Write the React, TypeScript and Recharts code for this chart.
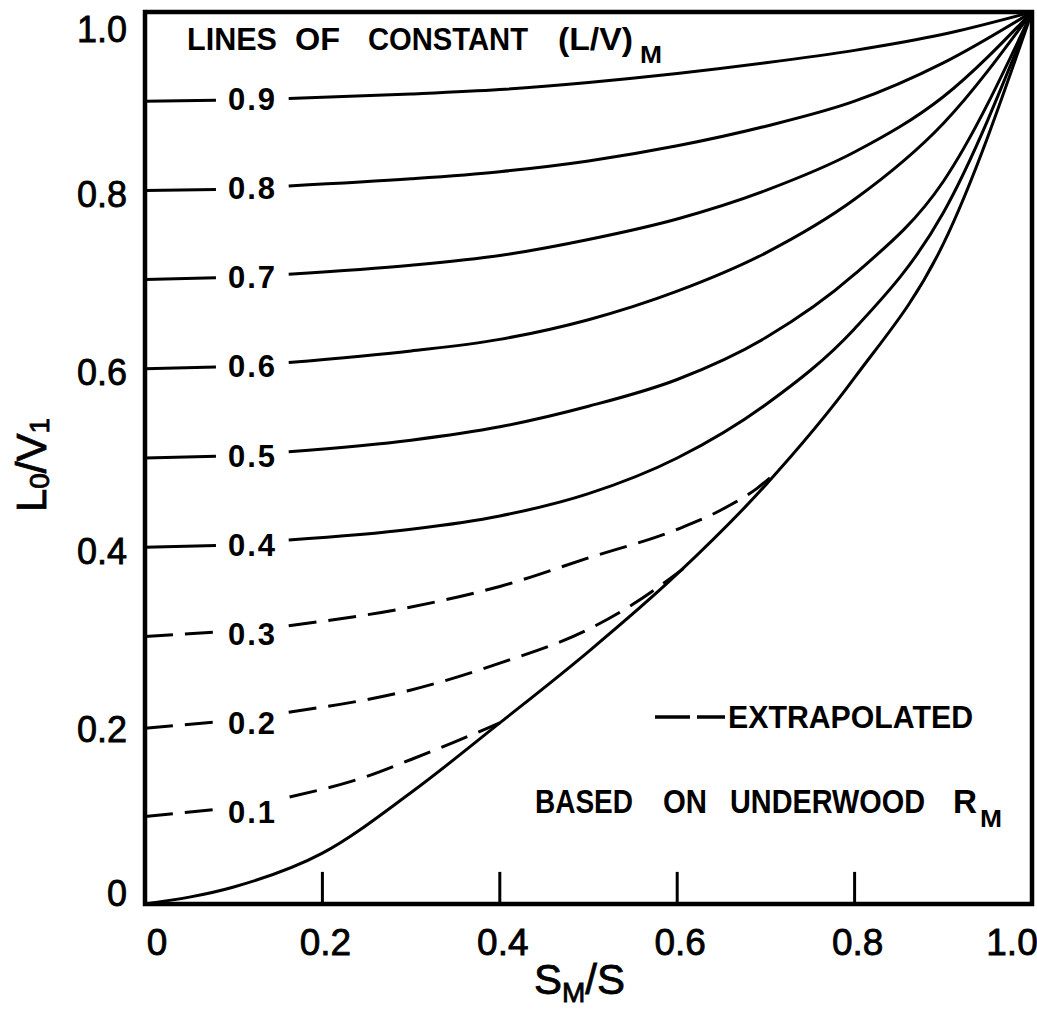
import React from 'react';
import {
  LineChart,
  Line,
  XAxis,
  YAxis,
  ReferenceArea,
  ReferenceLine,
  ReferenceDot,
  Customized,
} from 'recharts';

type Pt = [number, number | null];

// Lines of constant (L/V)_M as [S_M/S, L0/V1]; the null point leaves room for the tag
const lv09: Pt[] = [[0, 0.9], [0.08, 0.901], [0.12, null], [0.162, 0.903], [0.3, 0.908], [0.4, 0.913], [0.5, 0.921], [0.6, 0.931], [0.7, 0.943], [0.8, 0.957], [0.9, 0.975], [1, 1]];
const lv08: Pt[] = [[0, 0.8], [0.08, 0.801], [0.12, null], [0.162, 0.805], [0.3, 0.813], [0.4, 0.821], [0.5, 0.833], [0.6, 0.85], [0.7, 0.872], [0.8, 0.9], [0.9, 0.943], [1, 1]];
const lv07: Pt[] = [[0, 0.7], [0.08, 0.702], [0.12, null], [0.162, 0.706], [0.3, 0.716], [0.4, 0.727], [0.5, 0.745], [0.6, 0.768], [0.7, 0.8], [0.8, 0.843], [0.9, 0.905], [1, 1]];
const lv06: Pt[] = [[0, 0.6], [0.08, 0.602], [0.12, null], [0.162, 0.607], [0.3, 0.62], [0.4, 0.633], [0.5, 0.655], [0.6, 0.687], [0.7, 0.73], [0.8, 0.79], [0.9, 0.875], [1, 1]];
const lv05: Pt[] = [[0, 0.5], [0.08, 0.502], [0.12, null], [0.162, 0.507], [0.3, 0.52], [0.4, 0.535], [0.5, 0.558], [0.6, 0.588], [0.7, 0.635], [0.8, 0.706], [0.9, 0.81], [1, 1]];
const lv04: Pt[] = [[0, 0.4], [0.08, 0.402], [0.12, null], [0.162, 0.408], [0.3, 0.42], [0.4, 0.435], [0.5, 0.46], [0.6, 0.5], [0.7, 0.56], [0.8, 0.645], [0.9, 0.775], [1, 1]];
const lv03: Pt[] = [[0, 0.3], [0.08, 0.305], [0.12, null], [0.162, 0.312], [0.3, 0.333], [0.4, 0.356], [0.5, 0.388], [0.6, 0.42], [0.65, 0.442], [0.69, 0.466], [0.715, 0.487]];
const lv02: Pt[] = [[0, 0.197], [0.08, 0.204], [0.12, null], [0.162, 0.215], [0.3, 0.24], [0.4, 0.27], [0.5, 0.308], [0.55, 0.336], [0.607, 0.376]];
const lv01: Pt[] = [[0, 0.098], [0.079, 0.106], [0.12, null], [0.163, 0.12], [0.25, 0.143], [0.3, 0.162], [0.35, 0.182], [0.4, 0.203]];

// Underwood R_M limit curve
const limitCurve: Pt[] = [[0, 0], [0.1, 0.019], [0.2, 0.057], [0.3, 0.125], [0.4, 0.203], [0.5, 0.283], [0.6, 0.37], [0.7, 0.47], [0.8, 0.59], [0.9, 0.74], [1, 1]];

const curveTags = ['0.9', '0.8', '0.7', '0.6', '0.5', '0.4', '0.3', '0.2', '0.1'];
const curveValues = [0.9, 0.8, 0.7, 0.6, 0.5, 0.4, 0.3, 0.2, 0.1];
const curveData = [lv09, lv08, lv07, lv06, lv05, lv04, lv03, lv02, lv01];
const dashedTags = ['0.3', '0.2', '0.1'];

const xTicks = [0, 0.2, 0.4, 0.6, 0.8, 1];
const yTicks = [0, 0.2, 0.4, 0.6, 0.8, 1];
const innerTicks = [0.2, 0.4, 0.6, 0.8];

const FONT = "'Liberation Sans', Arial, Helvetica, sans-serif";
const INK = '#000';

const toRows = (pts: Pt[]) => pts.map(([x, y]) => ({ x, y }));
const fmt = (v: number) => (v === 0 ? '0' : v.toFixed(1));

const XTick = (props: any) => {
  const { x, y, payload } = props;
  const v = payload.value;
  const dx = v === 0 ? 12 : v === 1 ? -20 : 3;
  return (
    <text x={x + dx} y={y + 38} textAnchor="middle" dominantBaseline="central"
      fontFamily={FONT} fontSize={37} fill={INK} stroke={INK} strokeWidth={0.8}>
      {fmt(v)}
    </text>
  );
};

const YTick = (props: any) => {
  const { x, y, payload } = props;
  const v = payload.value;
  const dy = v === 1 ? 17 : v === 0 ? -11 : 4;
  return (
    <text x={x - 18} y={y + dy} textAnchor="end" dominantBaseline="central"
      fontFamily={FONT} fontSize={36} fill={INK} stroke={INK} strokeWidth={0.8}>
      {fmt(v)}
    </text>
  );
};

const tagLabel = (tag: string) => (props: any) => {
  const vb = props.viewBox || {};
  const cy = (vb.y ?? 0) + (vb.height ?? 0) / 2;
  return (
    <text x={vb.x - 4} y={cy - 2} dominantBaseline="central" fontFamily={FONT}
      fontSize={31} fontWeight="bold" letterSpacing={2} fill={INK}>
      {tag}
    </text>
  );
};

const word = (text: string, x: number, y: number, size: number, len?: number) => (
  <text key={text + x} x={x} y={y} fontFamily={FONT} fontSize={size} fontWeight="bold"
    fill={INK} textLength={len} lengthAdjust="spacingAndGlyphs">
    {text}
  </text>
);

const Notes = () => (
  <g>
    {word('LINES', 187, 50, 32, 90)}
    {word('OF', 295, 50, 32, 45)}
    {word('CONSTANT', 368, 50, 32, 160)}
    {word('(L/V)', 558, 50, 32, 75)}
    {word('M', 640, 63, 23, 22)}

    <line x1={655} x2={725} y1={717} y2={717} stroke={INK} strokeWidth={3.5} strokeDasharray="35 7" />
    {word('EXTRAPOLATED', 728, 728, 32, 245)}

    {word('BASED', 535, 813, 33, 98)}
    {word('ON', 663, 813, 33, 44)}
    {word('UNDERWOOD', 730, 813, 33, 195)}
    {word('R', 953, 813, 33, 24)}
    {word('M', 980, 827, 24, 22)}

    <text transform="rotate(-90, 31, 465)" x={31} y={465} textAnchor="middle"
      dominantBaseline="central" fontFamily={FONT} fontSize={42} fill={INK}
      stroke={INK} strokeWidth={0.8}>
      L<tspan fontSize={28} dy={8}>0</tspan>
      <tspan dy={-8}>/V</tspan>
      <tspan fontSize={28} dy={8}>1</tspan>
    </text>

    <text x={534} y={994} fontFamily={FONT} fontSize={42} fill={INK}
      stroke={INK} strokeWidth={0.8}>
      S<tspan fontSize={28} dy={8}>M</tspan>
      <tspan dy={-8}>/S</tspan>
    </text>
  </g>
);

export default function App() {
  return (
    <div style={{ position: 'absolute', left: 0, top: 0, width: 1037, height: 1012, background: '#fff' }}>
      <LineChart width={1037} height={1012} margin={{ top: 12, right: 5, bottom: 48, left: 85 }}>
        <XAxis type="number" dataKey="x" domain={[0, 1]} ticks={xTicks} height={60}
          axisLine={false} tickLine={false} tickSize={0} tickMargin={0} tick={<XTick />}
          allowDataOverflow interval={0} />
        <YAxis type="number" domain={[0, 1]} ticks={yTicks} width={60}
          axisLine={false} tickLine={false} tickSize={0} tickMargin={0} tick={<YTick />}
          allowDataOverflow interval={0} />

        {curveData.map((pts, i) => (
          <Line key={curveTags[i]} data={toRows(pts)} dataKey="y" type="monotone"
            stroke={INK} strokeWidth={3} dot={false} activeDot={false}
            strokeDasharray={dashedTags.includes(curveTags[i]) ? '28 12' : undefined}
            isAnimationActive={false} />
        ))}
        <Line data={toRows(limitCurve)} dataKey="y" type="monotone" stroke={INK}
          strokeWidth={3} dot={false} activeDot={false} isAnimationActive={false} />

        {curveTags.map((tag, i) => (
          <ReferenceDot key={'tag' + tag} x={0.098} y={curveValues[i]} r={0}
            fill="none" stroke="none" ifOverflow="visible" label={tagLabel(tag)} />
        ))}

        {innerTicks.map((t) => (
          <ReferenceLine key={'tk' + t} segment={[{ x: t, y: 0 }, { x: t, y: 0.036 }]}
            stroke={INK} strokeWidth={3} />
        ))}

        <ReferenceArea x1={0} x2={1} y1={0} y2={1} fill="none" stroke={INK}
          strokeWidth={4.5} ifOverflow="visible" />

        <Customized component={Notes} />
      </LineChart>
    </div>
  );
}
